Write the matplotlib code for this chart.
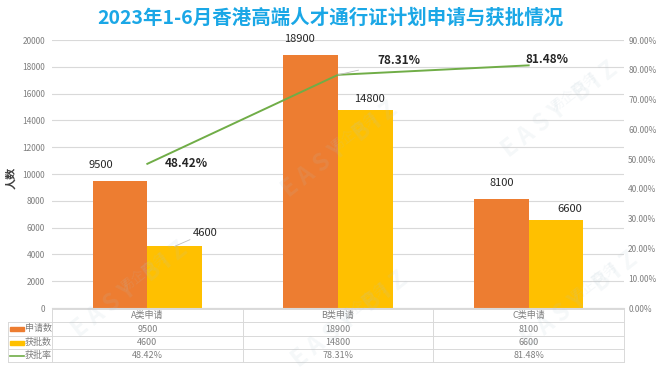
import matplotlib
matplotlib.use("Agg")
import matplotlib.pyplot as plt
from matplotlib.patches import Rectangle
from matplotlib.lines import Line2D

plt.rcParams['font.family'] = ['Noto Sans CJK SC', 'DejaVu Sans']

categories = ["A类申请", "B类申请", "C类申请"]
applications = [9500, 18900, 8100]
approved = [4600, 14800, 6600]
approval_rate = [48.42, 78.31, 81.48]
series_names = ["申请数", "获批数", "获批率"]
title = "2023年1-6月香港高端人才通行证计划申请与获批情况"

C_OR = "#ED7D31"
C_YE = "#FFC000"
C_GR = "#70AD47"
C_GRID = "#D9D9D9"
C_TXT = "#7F7F7F"

W, H = 660, 372
fig = plt.figure(figsize=(W / 100, H / 100), dpi=100)

def fx(px):
    return px / W

def fy(py):
    return 1 - py / H

# watermarks
for (x, y) in [(130, 290), (340, 150), (560, 110), (580, 300), (350, 320)]:
    fig.text(fx(x), fy(y), "E A S Y   B I Z", rotation=38, fontsize=17,
             color="#B0C4D0", alpha=0.12, ha="center", va="center",
             fontweight="bold")
    fig.text(fx(x + 14), fy(y - 18), "易企商务", rotation=38, fontsize=10,
             color="#B0C4D0", alpha=0.12, ha="center", va="center")

ax = fig.add_axes([fx(52), fy(308), fx(624) - fx(52), fy(40) - fy(308)])
x = list(range(len(categories)))
bw = 0.286
ax.bar([i - bw / 2 for i in x], applications, width=bw, color=C_OR, zorder=2)
ax.bar([i + bw / 2 for i in x], approved, width=bw, color=C_YE, zorder=2)
ax.set_xlim(-0.5, len(categories) - 0.5)
ax.set_ylim(0, 20000)
ax.set_yticks(range(0, 20001, 2000))
ax.yaxis.grid(True, color=C_GRID, linewidth=0.8, zorder=0)
ax.set_xticks([])
for s in ["top", "right", "left"]:
    ax.spines[s].set_visible(False)
ax.spines["bottom"].set_color(C_GRID)
ax.tick_params(axis="y", length=0, labelsize=6, labelcolor=C_TXT, pad=5)

ax2 = ax.twinx()
ax2.set_ylim(0, 90)
ax2.set_yticks(range(0, 91, 10))
ax2.set_yticklabels([f"{v:.2f}%" for v in range(0, 91, 10)])
ax2.tick_params(axis="y", length=0, labelsize=6, labelcolor=C_TXT, pad=3)
for s in ["top", "right", "left", "bottom"]:
    ax2.spines[s].set_visible(False)
ax2.plot(x, approval_rate, color=C_GR, linewidth=1.4, zorder=3)

fig.text(fx(11), fy(178), "人数", rotation=90, ha="center", va="center",
         fontsize=8, fontweight="bold", color="#404040")

# bar labels (offsets in points)
off1 = [(-14, 8), (-8, 8), (0, 8)]
off2 = [(22, 6), (3, 4), (10, 4)]
for i, v in enumerate(applications):
    ax.annotate(f"{v}", (i - bw / 2, v), xytext=off1[i], textcoords="offset points",
                ha="center", va="bottom", fontsize=8, color="#262626")
for i, v in enumerate(approved):
    ax.annotate(f"{v}", (i + bw / 2, v), xytext=off2[i], textcoords="offset points",
                ha="center", va="bottom", fontsize=8, color="#262626",
                arrowprops=dict(arrowstyle="-", color="#BFBFBF", lw=0.6,
                                shrinkA=0, shrinkB=0) if i == 0 else None)
offp = [(28, 0), (44, 10), (13, 4)]
for i, v in enumerate(approval_rate):
    ax2.annotate(f"{v:.2f}%", (i, v), xytext=offp[i], textcoords="offset points",
                 ha="center", va="center", fontsize=8.5, fontweight="bold",
                 color="#262626",
                 arrowprops=dict(arrowstyle="-", color="#BFBFBF", lw=0.6,
                                 shrinkA=12, shrinkB=0) if i == 1 else None)

fig.text(0.5, fy(18), title, ha="center", va="center", fontsize=14,
         fontweight="bold", color="#1AA7E6")

# data table
tax = fig.add_axes([0, 0, 1, 1], facecolor="none")
tax.set_xlim(0, W)
tax.set_ylim(H, 0)
tax.axis("off")
x0, x1 = 52, 624
lx = 8
rows_y = [309, 322, 336, 349, 362]
ncol = len(categories)
cw = (x1 - x0) / ncol
lc = "#D9D9D9"
tax.add_line(Line2D([x0, x1], [rows_y[0]] * 2, color=lc, lw=0.7))
for yy in rows_y[1:]:
    tax.add_line(Line2D([lx, x1], [yy] * 2, color=lc, lw=0.7))
tax.add_line(Line2D([lx, lx], [rows_y[1], rows_y[-1]], color=lc, lw=0.7))
for k in range(ncol + 1):
    xx = x0 + k * cw
    tax.add_line(Line2D([xx, xx], [rows_y[0], rows_y[-1]], color=lc, lw=0.7))
fs = 6.5
for k, c in enumerate(categories):
    tax.text(x0 + (k + 0.5) * cw, (rows_y[0] + rows_y[1]) / 2, c, ha="center",
             va="center", fontsize=fs, color=C_TXT)
rows = [[str(v) for v in applications], [str(v) for v in approved],
        [f"{v:.2f}%" for v in approval_rate]]
for r, vals in enumerate(rows):
    yc = (rows_y[r + 1] + rows_y[r + 2]) / 2
    for k, t in enumerate(vals):
        tax.text(x0 + (k + 0.5) * cw, yc, t, ha="center", va="center",
                 fontsize=fs, color=C_TXT)
    tax.text(25, yc, series_names[r], ha="left", va="center", fontsize=fs, color=C_TXT)
    if r < 2:
        tax.add_patch(Rectangle((10, yc - 2), 14, 4, color=[C_OR, C_YE][r]))
    else:
        tax.add_line(Line2D([10, 24], [yc, yc], color=C_GR, lw=1.2))

fig.savefig("out.png", dpi=100)
